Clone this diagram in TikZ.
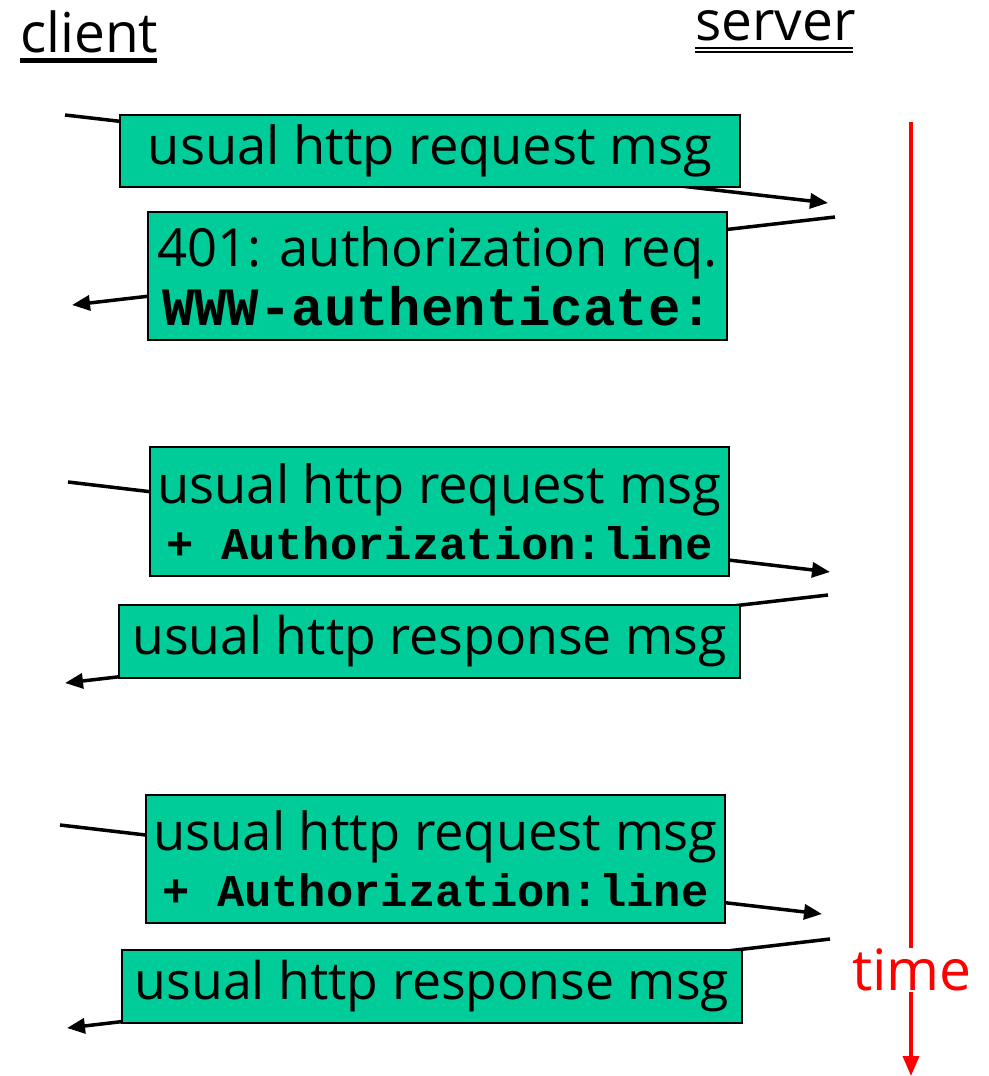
\documentclass[tikz,border=0pt]{standalone}
\usepackage{fontspec}
\setmainfont{Open Sans}
\setmonofont{Liberation Mono}
\usetikzlibrary{arrows.meta}
\definecolor{msggreen}{RGB}{0,204,153}
\definecolor{timered}{RGB}{255,0,0}

\begin{document}
\begin{tikzpicture}[x=1pt,y=-1pt,
  msgbox/.style={draw=black, line width=2pt, fill=msggreen, inner sep=0pt, align=center},
  wire/.style={line width=3.5pt, -{Triangle[length=18pt,width=15pt]}},
  party/.style={font=\fontsize{55}{60}\selectfont, inner sep=0pt, anchor=base west},
]
\useasboundingbox (0,0) rectangle (988,1076);

% end points on the two time lines
\coordinate (c1) at (65,115);   \coordinate (s1) at (828,203);
\coordinate (s2) at (835,217);  \coordinate (c2) at (72,305);
\coordinate (c3) at (68,482);   \coordinate (s3) at (830,572);
\coordinate (s4) at (828,595);  \coordinate (c4) at (65,683);
\coordinate (c5) at (60,825);   \coordinate (s5) at (822,914);
\coordinate (s6) at (830,939);  \coordinate (c6) at (67,1028);

% messages travelling between client and server
\draw[wire] (c1) -- (s1);
\draw[wire] (s2) -- (c2);
\draw[wire] (c3) -- (s3);
\draw[wire] (s4) -- (c4);
\draw[wire] (c5) -- (s5);
\draw[wire] (s6) -- (c6);

% message contents
\node[msgbox, minimum width=620, minimum height=72] (m1) at (430,151)
  {\fontsize{52.5}{56}\selectfont usual http request msg};
\node[msgbox, minimum width=579, minimum height=128] (m2) at (437.5,276)
  {\fontsize{52.5}{56}\selectfont 401: authorization req.\\[6pt]
   \fontsize{54}{63}\selectfont\ttfamily\bfseries WWW-authenticate:};
\node[msgbox, minimum width=579, minimum height=129] (m3) at (439.5,511.5)
  {\fontsize{52.5}{56}\selectfont usual http request msg\\[9pt]
   \fontsize{45.5}{58}\selectfont\ttfamily\bfseries + Authorization:line};
\node[msgbox, minimum width=621, minimum height=73] (m4) at (429.5,641.5)
  {\fontsize{51.8}{56}\selectfont usual http response msg};
\node[msgbox, minimum width=579, minimum height=128] (m5) at (435.5,859)
  {\fontsize{52.5}{56}\selectfont usual http request msg\\[9pt]
   \fontsize{45.5}{58}\selectfont\ttfamily\bfseries + Authorization:line};
\node[msgbox, minimum width=620, minimum height=73] (m6) at (432,986.5)
  {\fontsize{51.8}{56}\selectfont usual http response msg};

% parties
\node[party] (client) at (20,52) {client};
\draw[line width=5pt] (client.base west) ++(0,8.5) -- ++(137,0);
\node[party] (server) at (695,40) {server};
\draw[line width=2pt] (server.base west) ++(0,7.5) -- ++(158,0);
\draw[line width=2pt] (server.base west) ++(0,11.5) -- ++(158,0);

% time axis
\coordinate (t0) at (911,122);
\coordinate (t1) at (911,1076);
\draw[timered, line width=3.5pt, -{Triangle[length=20pt,width=16pt]}] (t0) -- (t1);
\node[fill=white, text=timered, inner sep=1pt, font=\fontsize{57}{60}\selectfont] (time) at (912,970) {time};
\end{tikzpicture}
\end{document}
